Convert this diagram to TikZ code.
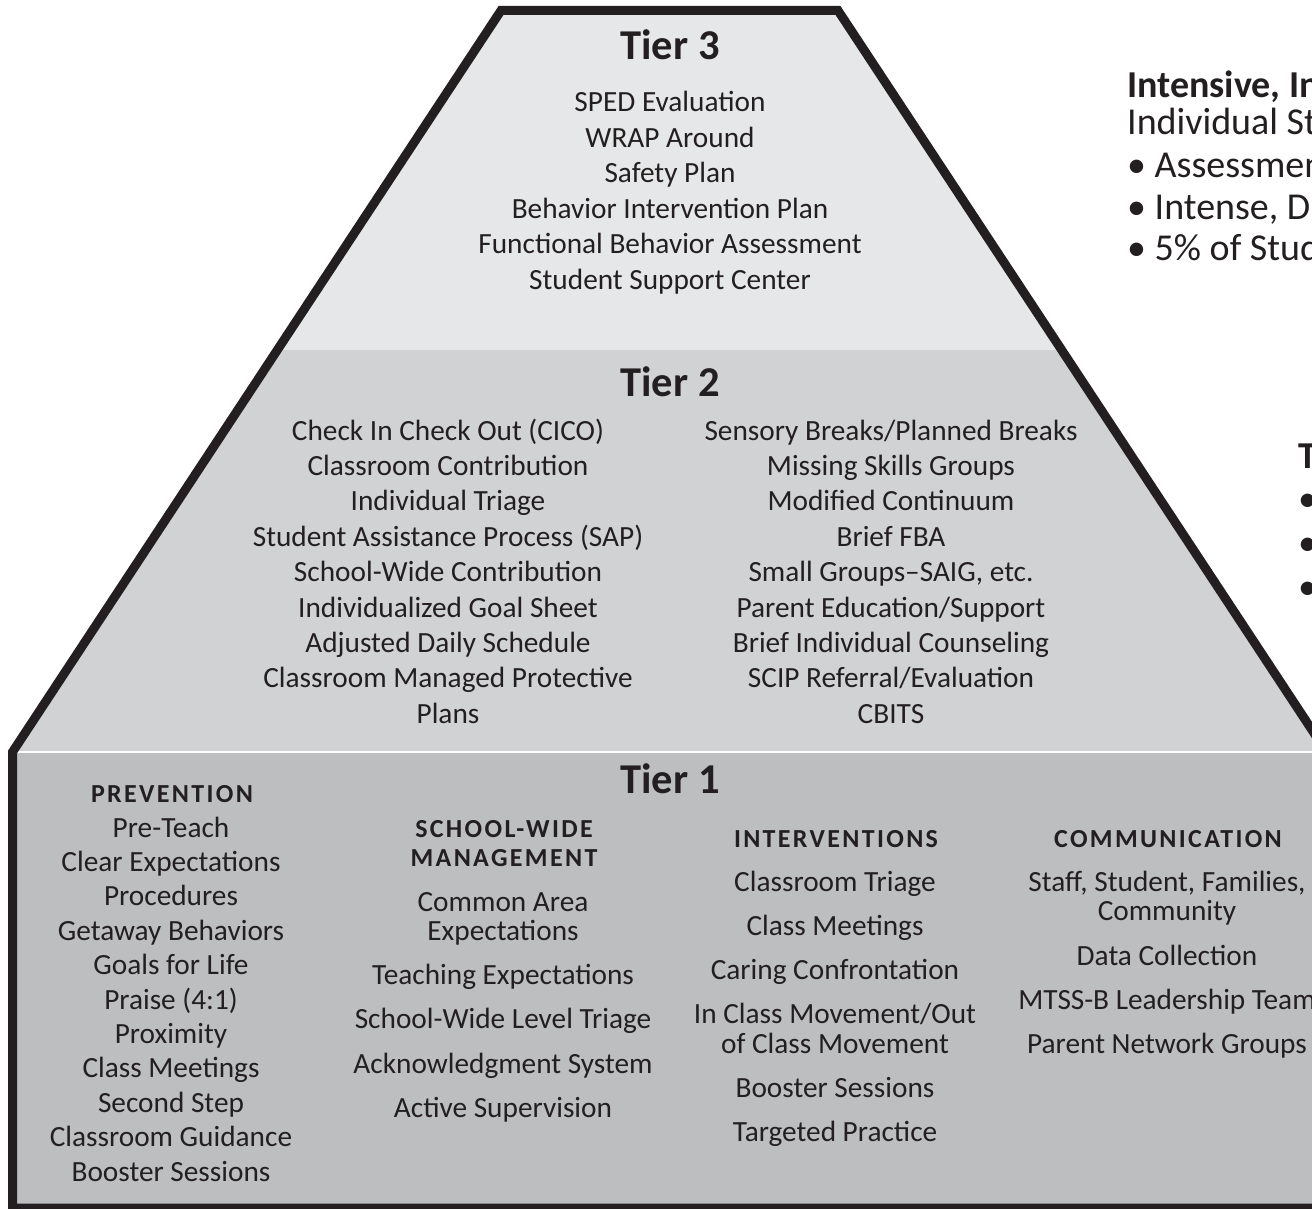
\documentclass[tikz,border=0pt]{standalone}
\usepackage{fontspec}
\setmainfont{Carlito}
\definecolor{ink}{HTML}{231F20}
\definecolor{tierthree}{HTML}{E6E7E8}
\definecolor{tiertwo}{HTML}{D1D2D4}
\definecolor{tierone}{HTML}{BCBEC0}
\begin{document}
\begin{tikzpicture}[x=1pt,y=-1pt,
  item/.style={anchor=base, inner sep=0pt, text=ink, font=\fontsize{29.3}{34}\selectfont},
  tiertitle/.style={anchor=base, inner sep=0pt, text=ink, font=\fontsize{42.5}{48}\selectfont\bfseries},
  hdr/.style={anchor=base, inner sep=0pt, text=ink, font=\fontsize{26}{30}\selectfont\bfseries\addfontfeatures{LetterSpace=9}},
  side/.style={anchor=base west, inner sep=0pt, text=ink, font=\fontsize{38}{44}\selectfont},
  sidebold/.style={side, font=\fontsize{38}{44}\selectfont\bfseries},
  outline/.style={draw=ink, line width=9pt, line join=miter}
]
\useasboundingbox (0,0) rectangle (1312,1209);
\clip (0,0) rectangle (1312,1209);
\fill[white] (0,0) rectangle (1312,1209);
% pyramid fills
\coordinate (tl) at (501,10.5);
\coordinate (tr) at (838,10.5);
\coordinate (ml) at (277.4,350);
\coordinate (mr) at (1061.6,350);
\coordinate (bl) at (12.5,752);
\coordinate (br) at (1326.5,752);
\coordinate (fl) at (12.5,1208);
\coordinate (fr) at (1326.5,1208);
\fill[tierthree] (tl) -- (tr) -- (mr) -- (ml) -- cycle;
\fill[tiertwo] (ml) -- (mr) -- (br) -- (bl) -- cycle;
\fill[tierone] (bl) rectangle (fr);
\draw[white, line width=2.5pt] (bl) -- (br);
\draw[outline] (tl) -- (tr) -- (br) -- (fr) -- (fl) -- (bl) -- cycle;

% Tier 3
\node[tiertitle] (t3title) at (670,60) {Tier 3};
\foreach \t [count=\i from 0] in {SPED Evaluation, WRAP Around, Safety Plan, Behavior Intervention Plan, Functional Behavior Assessment, Student Support Center}
  \node[item] (t3-\i) at (670,{112+35.5*\i}) {\t};

% Tier 2
\node[tiertitle] (t2title) at (670,396) {Tier 2};
\foreach \t [count=\i from 0] in {Check In Check Out (CICO), Classroom Contribution, Individual Triage, Student Assistance Process (SAP), School-Wide Contribution, Individualized Goal Sheet, Adjusted Daily Schedule, Classroom Managed Protective, Plans}
  \node[item] (t2l-\i) at (448,{440+35.4*\i}) {\t};
\foreach \t [count=\i from 0] in {Sensory Breaks/Planned Breaks, Missing Skills Groups, Modified Continuum, Brief FBA, {Small Groups–SAIG, etc.}, Parent Education/Support, Brief Individual Counseling, SCIP Referral/Evaluation, CBITS}
  \node[item] (t2r-\i) at (891,{440+35.4*\i}) {\t};

% Tier 1
\node[tiertitle] (t1title) at (670,793) {Tier 1};
\node[hdr] (prevhdr) at (172,802) {PREVENTION};
\foreach \t [count=\i from 0] in {Pre-Teach, Clear Expectations, Procedures, Getaway Behaviors, Goals for Life, Praise (4:1), Proximity, Class Meetings, Second Step, Classroom Guidance, Booster Sessions}
  \node[item] (prev-\i) at (171,{837+34.4*\i}) {\t};

\node[hdr] (swhdra) at (504,837) {SCHOOL-WIDE};
\node[hdr] (swhdrb) at (504,866) {MANAGEMENT};
\node[item] (sw-0) at (503,911) {Common Area};
\node[item] (sw-1) at (503,940) {Expectations};
\node[item] (sw-2) at (503,984) {Teaching Expectations};
\node[item] (sw-3) at (503,1028) {School-Wide Level Triage};
\node[item] (sw-4) at (503,1073) {Acknowledgment System};
\node[item] (sw-5) at (503,1117) {Active Supervision};

\node[hdr] (inthdr) at (836,847) {INTERVENTIONS};
\node[item] (int-0) at (835,891) {Classroom Triage};
\node[item] (int-1) at (835,935) {Class Meetings};
\node[item] (int-2) at (835,979) {Caring Confrontation};
\node[item] (int-3) at (835,1023) {In Class Movement/Out};
\node[item] (int-4) at (835,1053) {of Class Movement};
\node[item] (int-5) at (835,1097) {Booster Sessions};
\node[item] (int-6) at (835,1141) {Targeted Practice};

\node[hdr] (comhdr) at (1168,847) {COMMUNICATION};
\node[item] (com-0) at (1167,891) {Staff, Student, Families,};
\node[item] (com-1) at (1167,920) {Community};
\node[item] (com-2) at (1167,965) {Data Collection};
\node[item] (com-3) at (1167,1009) {MTSS-B Leadership Team};
\node[item] (com-4) at (1167,1053) {Parent Network Groups};

% side texts (cut by the right edge)
\node[sidebold] (s3title) at (1127,98) {Intensive, In};
\node[side] (s3sub) at (1127,135) {Individual St};
\node[side] (s3b1) at (1127,178) {• Assessmen};
\node[side] (s3b2) at (1127,220) {• Intense, D};
\node[side] (s3b3) at (1127,260) {• 5\% of Stud};

\node[sidebold] (s2title) at (1298,468) {T};
\node[side] (s2b1) at (1298,511) {•};
\node[side] (s2b2) at (1298,555) {•};
\node[side] (s2b3) at (1298,599) {•};
\end{tikzpicture}
\end{document}
